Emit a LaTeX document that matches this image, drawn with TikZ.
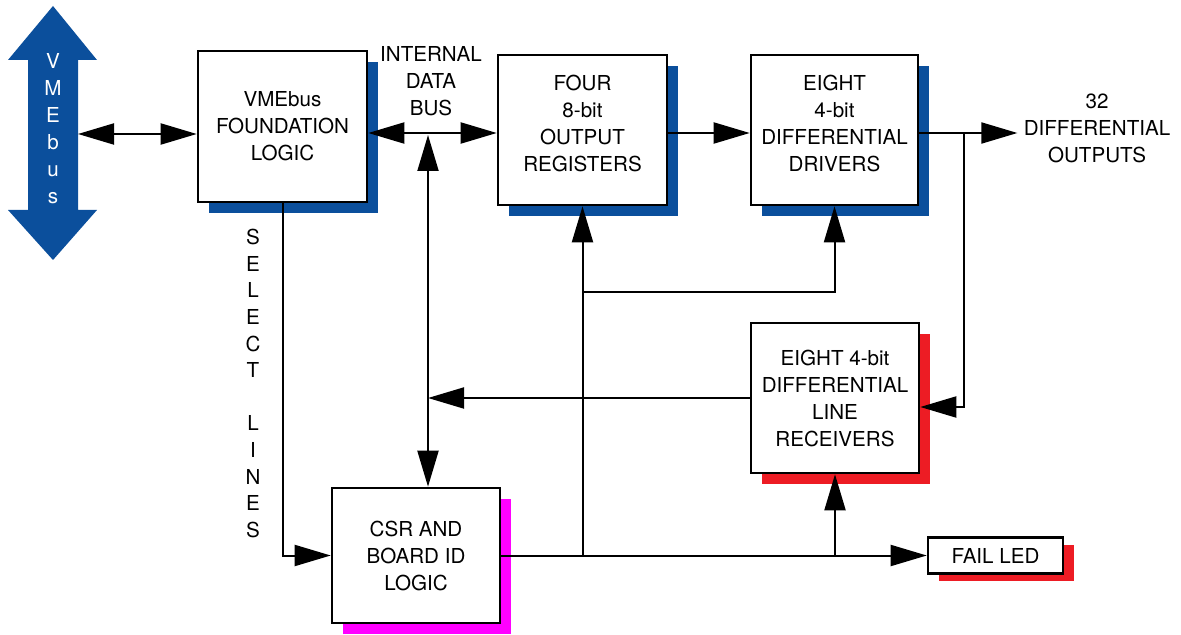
\documentclass[tikz,border=0pt]{standalone}
\usepackage{fontspec}
\setmainfont{TeX Gyre Heros}
\usetikzlibrary{arrows.meta, shadows}
\definecolor{vmeblue}{RGB}{11,79,156}
\definecolor{ledred}{RGB}{237,28,36}
\definecolor{csrpink}{RGB}{255,0,255}
\tikzset{
  blk/.style={draw, line width=1.3pt, fill=white, align=center, inner sep=0pt,
    font=\fontsize{10.3}{13.5}\selectfont},
  blkshadow/.style={general shadow={fill=#1, shadow xshift=5.5pt, shadow yshift=-5.5pt}},
  lab/.style={align=center, inner sep=1pt, font=\fontsize{10.3}{13.5}\selectfont},
  conn/.style={line width=1pt},
  arr/.style={conn, -{Triangle[length=18pt, width=10.5pt]}},
  darr/.style={conn, {Triangle[length=18pt, width=10.5pt]}-{Triangle[length=18pt, width=10.5pt]}}
}

\begin{document}
\begin{tikzpicture}[x=0.5pt, y=-0.5pt]
  \useasboundingbox (0,0) rectangle (1181,635);
  % VMEbus double arrow
  \fill[vmeblue] (53,6) -- (97,60) -- (78,60) -- (78,210) -- (97,210) -- (53,260)
    -- (8,210) -- (28,210) -- (28,60) -- (8,60) -- cycle;
  \node[lab, text=white] (vmetxt) at (53,129) {V\\M\\E\\b\\u\\s};
  \coordinate (vme) at (78,134);

  % blocks
  \node[blk, blkshadow=vmeblue, minimum width=84.5pt, minimum height=75.5pt] (fnd) at (282.5,126.5)
    {VMEbus\\FOUNDATION\\LOGIC};
  \node[blk, blkshadow=vmeblue, minimum width=84.5pt, minimum height=75pt] (oreg) at (582.5,130)
    {FOUR\\8-bit\\OUTPUT\\REGISTERS\\[-6.5pt]\mbox{}};
  \node[blk, blkshadow=vmeblue, minimum width=83.5pt, minimum height=75pt] (drv) at (834.5,130)
    {EIGHT\\4-bit\\DIFFERENTIAL\\DRIVERS\\[-6.5pt]\mbox{}};
  \node[blk, blkshadow=ledred, minimum width=84pt, minimum height=75pt] (rcv) at (835,398)
    {EIGHT 4-bit\\DIFFERENTIAL\\LINE\\RECEIVERS};
  \node[blk, blkshadow=csrpink, minimum width=84pt, minimum height=67.5pt] (csr) at (416,555.5)
    {CSR AND\\BOARD ID\\LOGIC};
  \node[blk, minimum width=67.5pt, minimum height=18pt,
    general shadow={fill=ledred, shadow xshift=5.5pt, shadow yshift=-3.5pt}] (led) at (995.5,555.5)
    {FAIL LED};

  % labels
  \node[lab] (bustxt) at (431,81) {INTERNAL\\DATA\\BUS};
  \node[lab, inner sep=3pt] (outtxt) at (1097,128) {32\\DIFFERENTIAL\\OUTPUTS};
  \node[lab, font=\fontsize{10.3}{13.3}\selectfont] (seltxt) at (253,383.5)
    {S\\E\\L\\E\\C\\T\\\mbox{}\\L\\I\\N\\E\\S};

  % connectors
  \coordinate (bus) at (428,133);
  \coordinate (fb) at (964,133);
  \coordinate (fbin) at (964,407);
  \coordinate (tap) at (582,292);
  \draw[darr] (vme) -- (vme -| fnd.west);
  \draw[darr] (bus -| fnd.east) -- (bus -| oreg.west);
  \draw[darr] ([yshift=-1pt]bus) -- (bus |- csr.north);
  \draw[arr] (oreg.east |- bus) -- (drv.west |- bus);
  \draw[arr] (drv.east |- bus) -- (outtxt.west |- bus);
  \draw[arr] (fb) -- (fbin) -- (fbin -| rcv.east);
  \draw[arr] (rcv.west) -- (rcv.west -| bus);
  \draw[arr] (fnd.south) |- (csr.west);
  \draw[arr] (csr.east) -- (led.west);
  \draw[arr] (csr.east -| oreg.south) -- (oreg.south);
  \draw[arr] (oreg.south |- tap) -| (drv.south);
  \draw[arr] (csr.east -| rcv.south) -- (rcv.south);
\end{tikzpicture}
\end{document}
